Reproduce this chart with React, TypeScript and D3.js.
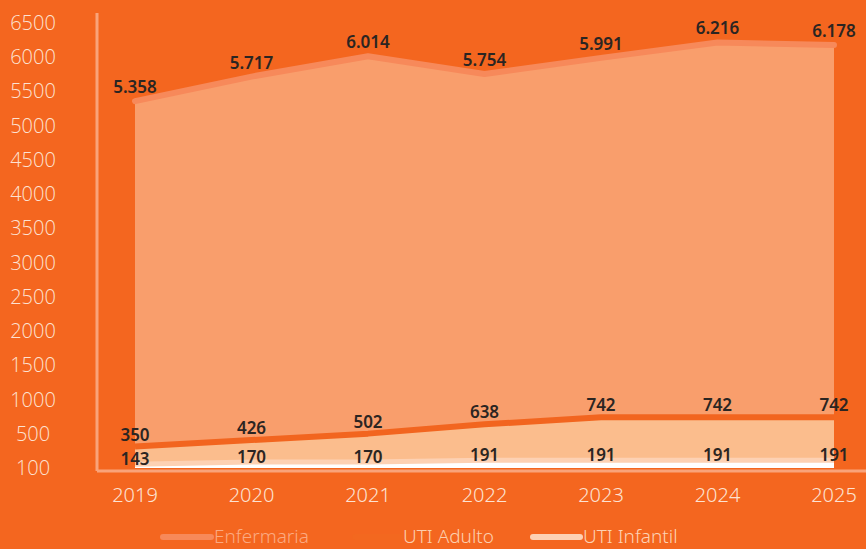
import * as d3 from "d3";

const years = ["2019", "2020", "2021", "2022", "2023", "2024", "2025"];
const enfermaria = [5358, 5717, 6014, 5754, 5991, 6216, 6178];
const utiAdulto = [350, 426, 502, 638, 742, 742, 742];
const utiInfantil = [143, 170, 170, 191, 191, 191, 191];
const yTicks = [100, 500, 1000, 1500, 2000, 2500, 3000, 3500, 4000, 4500, 5000, 5500, 6000, 6500];
const seriesNames = ["Enfermaria", "UTI Adulto", "UTI Infantil"];

const W = 866;
const H = 549;
const BG = "#F4661F";

const fmt = d3.formatLocale({ decimal: ",", thousands: ".", grouping: [3], currency: ["", ""] }).format(",");

const App = () => {
  const x = d3.scalePoint<string>().domain(years).range([135, 834]);
  const yBottom = 468;
  const step = (yBottom - 23) / (yTicks.length - 1);
  // the axis ticks are evenly spaced, so the scale is piecewise over them
  const y = d3
    .scaleLinear()
    .domain(yTicks)
    .range(yTicks.map((_, i) => yBottom - i * step));

  const line = d3
    .line<number>()
    .x((_, i) => x(years[i])!)
    .y((d) => y(d));
  const area = d3
    .area<number>()
    .x((_, i) => x(years[i])!)
    .y0(y(yTicks[0]))
    .y1((d) => y(d));

  const series = [
    { name: seriesNames[0], data: enfermaria, fill: "#F99E6C", stroke: "#F7895A", width: 6, cap: "round", dy: -14 },
    { name: seriesNames[1], data: utiAdulto, fill: "#FBBD8D", stroke: "#F2651F", width: 6, cap: "butt", dy: -12 },
    { name: seriesNames[2], data: utiInfantil, fill: "#FFFFFF", stroke: "#FDD1B3", width: 5, cap: "butt", dy: -5 },
  ];

  const legend = [
    { x1: 163, x2: 211, tx: 214, line: "#F7895A", text: "#FBAA82" },
    { x1: 355, x2: 400, tx: 403, line: "#F3681F", text: "#FCCFAF" },
    { x1: 533, x2: 580, tx: 583, line: "#FDD1B3", text: "#FDD3B5" },
  ];

  return (
    <svg width={W} height={H} style={{ position: "fixed", left: 0, top: 0 }}>
      <rect width={W} height={H} fill={BG} />

      {series.map((s) => (
        <g key={s.name}>
          <path d={area(s.data)!} fill={s.fill} />
          <path d={line(s.data)!} fill="none" stroke={s.stroke} strokeWidth={s.width} strokeLinecap={s.cap as any} strokeLinejoin="round" />
        </g>
      ))}

      {/* axes */}
      <line x1={97} x2={97} y1={13} y2={471} stroke="#F9A37A" strokeWidth={3} />
      <line x1={97} x2={W} y1={471} y2={471} stroke="#F9A37A" strokeWidth={3} />

      <g fontFamily="'Open Sans', sans-serif" fontSize={20} fontWeight={300} fill="#FDE2D2" textAnchor="middle">
        {yTicks.map((t) => (
          <text key={t} x={33} y={y(t)} dy="0.35em">
            {t}
          </text>
        ))}
      </g>

      <g fontFamily="'Noto Sans', sans-serif" fontSize={20} fontWeight={300} fill="#FDE2D2" textAnchor="middle">
        {years.map((yr) => (
          <text key={yr} x={x(yr)} y={502}>
            {yr}
          </text>
        ))}
      </g>

      {/* value labels */}
      <g fontFamily="'Noto Sans', sans-serif" fontSize={17} fontWeight={600} fill="#2B2522" textAnchor="middle">
        {series.map((s) =>
          s.data.map((v, i) => (
            <text key={s.name + i} x={x(years[i])} y={y(v) + s.dy} dy="0.35em">
              {fmt(v)}
            </text>
          ))
        )}
      </g>

      {/* legend */}
      <g fontFamily="'Noto Sans', sans-serif" fontSize={19} fontWeight={300}>
        {legend.map((l, i) => (
          <g key={seriesNames[i]}>
            <line x1={l.x1} x2={l.x2} y1={537} y2={537} stroke={l.line} strokeWidth={6} strokeLinecap="round" />
            <text x={l.tx} y={543} fill={l.text}>
              {seriesNames[i]}
            </text>
          </g>
        ))}
      </g>
    </svg>
  );
};

export default App;
